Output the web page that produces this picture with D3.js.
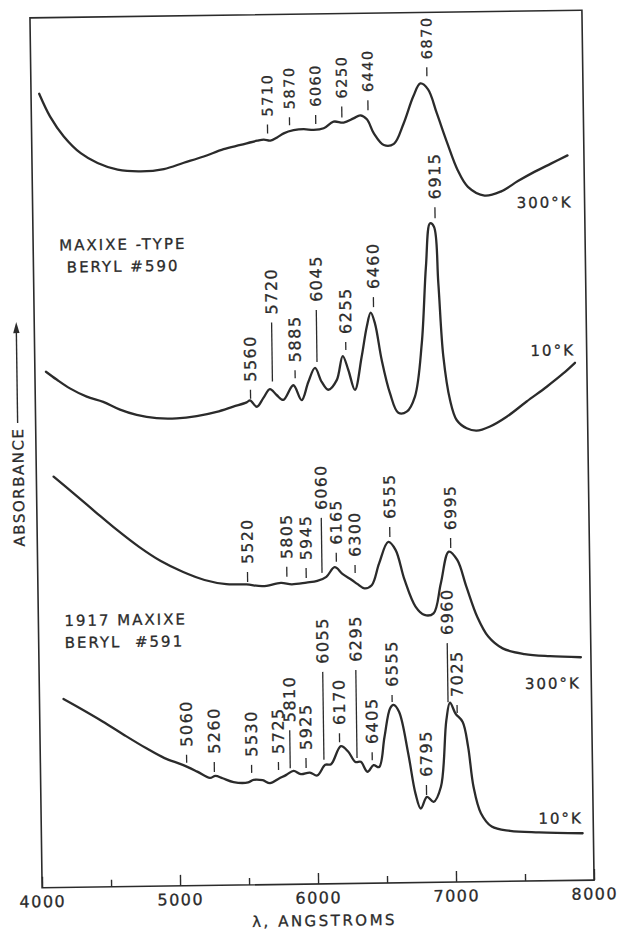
<!DOCTYPE html>
<html>
<head>
<meta charset="utf-8">
<script src="https://cdn.jsdelivr.net/npm/d3@7"></script>
<style>
  body { margin: 0; background: #fff; }
  svg text { stroke: #2b2b2b; stroke-width: 0.3px; }
</style>
</head>
<body>
<div id="chart"></div>
<script>
const width = 622;
const height = 930;
const frame = {left: 36, right: 588, top: 14, bottom: 884};
const ink = "#2b2b2b";

const majorTicks = [4000, 5000, 6000, 7000, 8000];
const minorTicks = [4500, 5500, 6500, 7500];

// [wavelength (A), absorbance (arbitrary, curves offset)]
const beryl590Warm = [[4059,79.4],[4136,77.1],[4233,75.1],[4354,73.4],[4475,72.4],[4620,71.7],[4788,71.5],[4955,71.7],
  [5100,72.3],[5245,72.9],[5390,73.6],[5513,74.0],[5634,74.4],[5682,74.5],[5730,74.4],[5779,74.7],[5827,75.1],
  [5899,75.4],[5972,75.5],[6044,75.4],[6117,75.55],[6189,76.2],[6262,76.1],[6334,76.5],[6383,76.8],[6431,76.4],
  [6479,75.0],[6551,73.8],[6624,73.9],[6696,75.9],[6769,78.6],[6822,79.9],[6877,79.3],[6938,76.9],[7011,73.9],
  [7083,71.2],[7156,69.5],[7276,68.6],[7397,69.0],[7519,70.0],[7639,70.9],[7760,71.7],[7881,72.5]];

const beryl590Cold = [[4080,51.6],[4157,50.8],[4252,49.9],[4373,49.05],[4492,48.5],[4613,47.7],[4733,47.15],[4877,46.8],
  [5022,46.75],[5168,46.95],[5313,47.35],[5434,47.85],[5531,48.25],[5556,48.45],[5604,47.8],[5652,48.65],[5701,49.55],
  [5749,48.95],[5797,48.45],[5871,49.9],[5930,48.4],[5980,50.2],[6030,51.6],[6077,50.2],[6124,49.4],[6186,50.35],
  [6232,52.75],[6271,51.35],[6317,49.35],[6369,52.65],[6409,55.65],[6439,57.05],[6469,55.95],[6514,52.3],[6571,48.95],
  [6629,47.0],[6690,47.1],[6751,48.6],[6806,53.9],[6844,61.6],[6878,65.9],[6906,65.55],[6932,59.9],[6961,52.55],
  [7005,48.2],[7051,46.2],[7123,45.35],[7195,45.1],[7292,45.5],[7414,46.45],[7560,47.95],[7707,49.4],[7828,50.7],[7914,51.75]];

const beryl591Warm = [[4125,41.1],[4268,39.4],[4425,37.5],[4581,35.65],[4737,33.95],[4893,32.5],[5050,31.4],[5208,30.55],
  [5366,30.1],[5511,30.05],[5629,29.85],[5761,30.15],[5840,30.0],[5946,30.15],[6025,30.3],[6091,30.7],[6152,31.65],
  [6210,30.95],[6275,30.35],[6314,29.95],[6366,29.5],[6419,29.8],[6474,31.95],[6543,34.1],[6595,33.3],[6657,30.3],
  [6734,27.6],[6798,26.75],[6864,26.9],[6920,29.9],[6981,33.05],[7041,32.2],[7105,29.5],[7180,26.5],[7258,24.5],
  [7361,23.3],[7519,22.7],[7703,22.45],[7927,22.3]];

const beryl591Cold = [[4174,18.85],[4299,17.85],[4455,16.55],[4612,15.15],[4770,13.8],[4900,12.8],[5031,12.1],[5136,11.4],
  [5227,10.75],[5267,10.95],[5319,10.7],[5398,10.3],[5504,10.25],[5543,10.5],[5609,10.45],[5662,10.15],[5728,10.6],
  [5781,10.95],[5834,11.35],[5886,11.0],[5952,11.15],[6005,10.85],[6064,11.9],[6106,11.95],[6179,13.75],[6231,13.2],
  [6283,12.15],[6322,12.15],[6369,11.15],[6414,11.8],[6454,11.6],[6496,14.6],[6539,17.45],[6565,17.8],[6604,17.1],
  [6666,12.95],[6715,8.9],[6752,7.4],[6798,8.55],[6845,8.05],[6900,9.55],[6946,16.2],[6974,17.95],[7013,16.85],
  [7064,16.0],[7101,13.5],[7136,9.5],[7187,6.85],[7264,5.5],[7396,5.05],[7606,4.85],[7922,4.7]];

// band labels: [wavelength, tick bottom, tick top] in absorbance units
const peaks590Warm = [[5710,75.1,76.0],[5870,75.9,76.7],[6060,76.0,76.9],[6250,76.6,77.7],[6440,77.3,78.3],[6870,80.6,81.5]];
const peaks590Cold = [[5560,48.6,49.5],[5720,50.3,56.2],[5885,50.6,51.4],[6045,52.2,57.4],[6255,53.35,54.15],
  [6460,57.6,58.6],[6915,66.4,67.5]];
const peaks591Warm = [[5520,30.3,31.3],[5805,30.75,31.75],[5945,30.6,31.6],[6060,31.1,36.6],[6165,32.2,33.1],
  [6300,31.05,31.85],[6555,34.6,35.6],[6995,33.4,34.4]];
const peaks591Cold = [[5060,12.3,13.1],[5260,11.35,12.35],[5530,11.2,12.0],[5725,11.45,12.25],[5810,11.6,15.4],
  [5925,11.6,12.6],[6055,12.4,21.2],[6170,14.15,15.05],[6295,12.55,21.35],[6405,12.3,13.1],[6555,18.1,18.8],
  [6795,8.75,9.75],[6960,18.0,23.9],[7025,16.9,17.7]];

const x = d3.scaleLinear().domain([4000, 8000]).range([frame.left, frame.right]);
const y = d3.scaleLinear().domain([0, 87]).range([frame.bottom, frame.top]);

const svg = d3.create("svg")
    .attr("width", width)
    .attr("height", height)
    .attr("font-family", "'DejaVu Sans', sans-serif")
    .style("background", "#fff");

// the scanned figure sits slightly tilted
const g = svg.append("g").attr("transform", "rotate(-0.8, 312, 448)");

g.append("rect")
    .attr("x", frame.left)
    .attr("y", frame.top)
    .attr("width", frame.right - frame.left)
    .attr("height", frame.bottom - frame.top)
    .attr("fill", "none")
    .attr("stroke", ink)
    .attr("stroke-width", 1.6);

const xAxis = g.append("g")
    .attr("transform", `translate(0,${frame.bottom})`)
    .call(d3.axisBottom(x).tickValues(majorTicks).tickSizeInner(-11).tickSizeOuter(0).tickPadding(8).tickFormat(d3.format("d")))
    .attr("font-family", null)
    .attr("font-size", 16);
xAxis.select(".domain").remove();
xAxis.selectAll("line").attr("stroke", ink).attr("stroke-width", 1.4);
xAxis.selectAll("text").attr("fill", ink).attr("letter-spacing", 1.5);

const xMinor = g.append("g")
    .attr("transform", `translate(0,${frame.bottom})`)
    .call(d3.axisBottom(x).tickValues(minorTicks).tickSizeInner(-7).tickSizeOuter(0).tickFormat(""));
xMinor.select(".domain").remove();
xMinor.selectAll("line").attr("stroke", ink).attr("stroke-width", 1.4);

g.append("text")
    .attr("x", (frame.left + frame.right) / 2 + 6)
    .attr("y", 926)
    .attr("text-anchor", "middle")
    .attr("font-size", 15)
    .attr("letter-spacing", 2.5)
    .attr("fill", ink)
    .text("λ, ANGSTROMS");

// y label with arrow
g.append("text")
    .attr("transform", "translate(18,483) rotate(-90)")
    .attr("text-anchor", "middle")
    .attr("dy", "0.36em")
    .attr("font-size", 15)
    .attr("letter-spacing", 1.5)
    .attr("fill", ink)
    .text("ABSORBANCE");
g.append("line")
    .attr("x1", 18).attr("x2", 18)
    .attr("y1", 419).attr("y2", 326)
    .attr("stroke", ink).attr("stroke-width", 1.4);
g.append("path")
    .attr("d", "M18,318 L14.8,329 L21.2,329 Z")
    .attr("fill", ink);

const line = d3.line()
    .x(d => x(d[0]))
    .y(d => y(d[1]))
    .curve(d3.curveCatmullRom.alpha(0.5));

[beryl590Warm, beryl590Cold, beryl591Warm, beryl591Cold].forEach(series => {
    g.append("path")
        .datum(series)
        .attr("fill", "none")
        .attr("stroke", ink)
        .attr("stroke-width", 2.3)
        .attr("stroke-linejoin", "round")
        .attr("stroke-linecap", "round")
        .attr("d", line);
});

function drawPeaks(list, size) {
    const grp = g.append("g");
    grp.selectAll("line")
        .data(list)
        .join("line")
        .attr("x1", d => x(d[0]))
        .attr("x2", d => x(d[0]))
        .attr("y1", d => y(d[1]))
        .attr("y2", d => y(d[2]))
        .attr("stroke", ink)
        .attr("stroke-width", 1.3);
    grp.selectAll("text")
        .data(list)
        .join("text")
        .attr("transform", d => `translate(${x(d[0])},${y(d[2]) - 8}) rotate(-90)`)
        .attr("dy", "0.36em")
        .attr("font-size", size)
        .attr("letter-spacing", 1.5)
        .attr("fill", ink)
        .text(d => d[0]);
}

drawPeaks(peaks590Warm, 14.5);
drawPeaks(peaks590Cold, 16);
drawPeaks(peaks591Warm, 15.5);
drawPeaks(peaks591Cold, 16);

// sample / temperature captions, anchored in data units
const notes = [
    {lines: ["300°K"], at: [7913, 67.3], anchor: "end"},
    {lines: ["10°K"], at: [7915, 52.5], anchor: "end"},
    {lines: ["MAXIXE -TYPE", "BERYL #590"], at: [4650, 63.7], anchor: "middle"},
    {lines: ["300°K"], at: [7924, 19.2], anchor: "end"},
    {lines: ["1917 MAXIXE", "BERYL\u00a0 #591"], at: [4188, 26.15], anchor: "start"},
    {lines: ["10°K"], at: [7925, 5.7], anchor: "end"}
];

notes.forEach(n => {
    const t = g.append("text")
        .attr("x", x(n.at[0]))
        .attr("y", y(n.at[1]))
        .attr("text-anchor", n.anchor)
        .attr("font-size", 15)
        .attr("letter-spacing", 2)
        .attr("fill", ink);
    n.lines.forEach((s, i) => {
        t.append("tspan")
            .attr("x", x(n.at[0]))
            .attr("dy", i === 0 ? 0 : 22)
            .text(s);
    });
});

d3.select("#chart").append(() => svg.node());
</script>
</body>
</html>
